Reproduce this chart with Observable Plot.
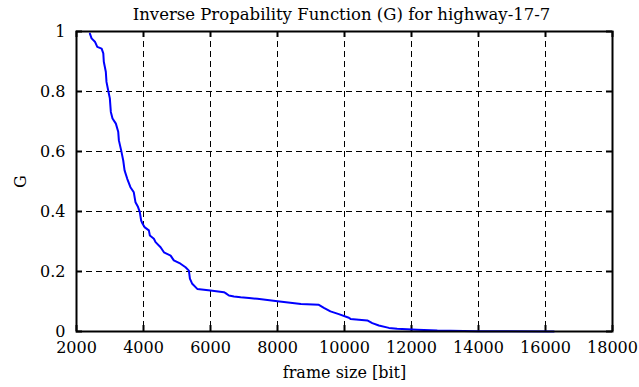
<!DOCTYPE html>
<html>
<head>
<meta charset="utf-8">
<script src="https://cdn.jsdelivr.net/npm/d3@7"></script>
<script src="https://cdn.jsdelivr.net/npm/@observablehq/plot@0.6"></script>
<style>
  html, body { margin: 0; padding: 0; background: white; }
  #chart { width: 639px; height: 387px; }
</style>
</head>
<body>
<div id="chart"></div>
<script>
const titleText = "Inverse Propability Function (G) for highway-17-7";
const xLabel = "frame size [bit]";
const yLabel = "G";

const frameSize = [2400, 2450, 2550, 2620, 2750, 2800, 2815, 2875, 2895, 2945, 2995, 3025, 3075, 3175, 3245, 3265, 3335, 3395, 3435, 3515, 3610, 3710, 3760, 3830, 3890, 3930, 3960, 4030, 4160, 4190, 4310, 4360, 4510, 4610, 4810, 4905, 5105, 5255, 5355, 5385, 5455, 5605, 6000, 6400, 6450, 6550, 6700, 6900, 7150, 7400, 8000, 8700, 9235, 9385, 9580, 9830, 10130, 10180, 10680, 10830, 11025, 11325, 11570, 12170, 12770, 13960, 16250];
const gValues = [0.993, 0.977, 0.966, 0.949, 0.943, 0.927, 0.899, 0.866, 0.832, 0.804, 0.777, 0.732, 0.710, 0.693, 0.666, 0.637, 0.603, 0.570, 0.537, 0.509, 0.481, 0.464, 0.431, 0.417, 0.398, 0.370, 0.362, 0.348, 0.337, 0.320, 0.309, 0.298, 0.281, 0.264, 0.253, 0.237, 0.226, 0.214, 0.203, 0.176, 0.159, 0.142, 0.137, 0.131, 0.128, 0.120, 0.117, 0.114, 0.112, 0.109, 0.101, 0.092, 0.089, 0.079, 0.067, 0.058, 0.046, 0.042, 0.037, 0.028, 0.020, 0.012, 0.009, 0.006, 0.003, 0.001, 0.000];

const xTicks = [2000, 4000, 6000, 8000, 10000, 12000, 14000, 16000, 18000];
const yTicks = [0, 0.2, 0.4, 0.6, 0.8, 1];
const yTickLabels = ["0", "0.2", "0.4", "0.6", "0.8", "1"];

const data = frameSize.map((x, i) => ({x, g: gValues[i]}));

const W = 639, H = 387;
const mL = 76, mR = 27, mT = 31, mB = 56;
const tickLen = 6;
const fw = W - mL - mR, fh = H - mT - mB;
const font = "'DejaVu Serif', serif";

const chart = Plot.plot({
  width: W, height: H,
  marginLeft: mL, marginRight: mR, marginTop: mT, marginBottom: mB,
  style: {fontFamily: font, fontSize: "16px", background: "white", color: "black"},
  x: {domain: [2000, 18000]},
  y: {domain: [0, 1]},
  marks: [
    Plot.gridX(xTicks.slice(1, -1), {stroke: "black", strokeOpacity: 1, strokeWidth: 1, strokeDasharray: "6,4"}),
    Plot.gridY(yTicks.slice(1, -1), {stroke: "black", strokeOpacity: 1, strokeWidth: 1, strokeDasharray: "6,4"}),
    Plot.tickX(xTicks, {x: d => d, insetTop: fh - tickLen, stroke: "black", strokeWidth: 2}),
    Plot.tickX(xTicks, {x: d => d, insetBottom: fh - tickLen, stroke: "black", strokeWidth: 2}),
    Plot.tickY(yTicks, {y: d => d, insetRight: fw - tickLen, stroke: "black", strokeWidth: 2}),
    Plot.tickY(yTicks, {y: d => d, insetLeft: fw - tickLen, stroke: "black", strokeWidth: 2}),
    Plot.line(data, {x: "x", y: "g", stroke: "#0000ff", strokeWidth: 2}),
    Plot.frame({stroke: "black", strokeWidth: 2}),
    Plot.axisX(xTicks, {tickSize: 0, tickPadding: 10, fill: "black", fontSize: 16, tickFormat: d => String(d), label: xLabel, labelAnchor: "center", labelArrow: "none", labelOffset: 46}),
    Plot.axisY(yTicks, {tickSize: 0, tickPadding: 11, fill: "black", fontSize: 16, tickFormat: (d, i) => yTickLabels[i], label: yLabel, labelAnchor: "center", labelArrow: "none", labelOffset: 62}),
    Plot.text([titleText], {frameAnchor: "top", dy: -23, dx: -3, text: d => d, fontSize: 16.5, fill: "black"})
  ]
});
document.getElementById("chart").appendChild(chart);
</script>
</body>
</html>
